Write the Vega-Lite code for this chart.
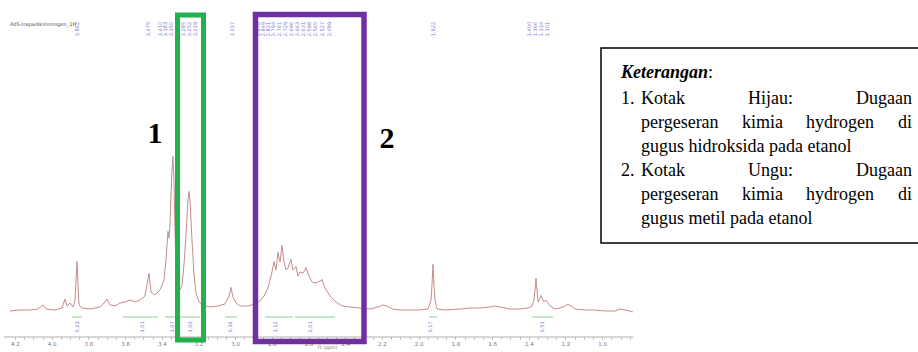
{
  "$schema": "https://vega.github.io/schema/vega-lite/v6.json",
  "width": 918,
  "height": 337,
  "autosize": "none",
  "padding": {"left": 0, "top": 0, "right": 0, "bottom": 15},
  "background": "white",
  "config": {"view": {"stroke": null}},
  "datasets": {
    "spectrum": [
      {"ppm":4.2272,"i":-1},{"ppm":4.1728,"i":0},{"ppm":4.1183,"i":0},{"ppm":4.0747,"i":1},{"ppm":4.0474,"i":5},{"ppm":4.0311,"i":1},
      {"ppm":3.982,"i":0},{"ppm":3.9439,"i":2},{"ppm":3.9275,"i":11},{"ppm":3.9166,"i":4},{"ppm":3.9003,"i":7},{"ppm":3.8839,"i":3},
      {"ppm":3.873,"i":10},{"ppm":3.8621,"i":48},{"ppm":3.8512,"i":5},{"ppm":3.8349,"i":2},{"ppm":3.7913,"i":1},{"ppm":3.7368,"i":3},
      {"ppm":3.7095,"i":8},{"ppm":3.6986,"i":11},{"ppm":3.6823,"i":5},{"ppm":3.655,"i":4},{"ppm":3.6278,"i":7},{"ppm":3.6005,"i":8},
      {"ppm":3.5733,"i":10},{"ppm":3.546,"i":8},{"ppm":3.5188,"i":10},{"ppm":3.4916,"i":14},{"ppm":3.4698,"i":36},{"ppm":3.4589,"i":18},
      {"ppm":3.4371,"i":15},{"ppm":3.4098,"i":20},{"ppm":3.388,"i":30},{"ppm":3.3771,"i":50},{"ppm":3.3717,"i":65},{"ppm":3.3662,"i":78},
      {"ppm":3.3608,"i":72},{"ppm":3.3553,"i":85},{"ppm":3.3499,"i":115},{"ppm":3.3444,"i":140},{"ppm":3.339,"i":153},{"ppm":3.3335,"i":130},
      {"ppm":3.3281,"i":80},{"ppm":3.3226,"i":40},{"ppm":3.3117,"i":20},{"ppm":3.3008,"i":20},{"ppm":3.2899,"i":25},{"ppm":3.279,"i":45},
      {"ppm":3.2681,"i":75},{"ppm":3.2572,"i":110},{"ppm":3.2518,"i":118},{"ppm":3.2463,"i":110},{"ppm":3.2354,"i":70},{"ppm":3.2245,"i":35},
      {"ppm":3.2136,"i":17},{"ppm":3.1973,"i":8},{"ppm":3.1755,"i":5},{"ppm":3.1373,"i":3},{"ppm":3.0937,"i":4},{"ppm":3.0556,"i":6},
      {"ppm":3.0338,"i":14},{"ppm":3.0229,"i":22},{"ppm":3.012,"i":13},{"ppm":2.9956,"i":7},{"ppm":2.9738,"i":4},{"ppm":2.9302,"i":4},
      {"ppm":2.8921,"i":6},{"ppm":2.8649,"i":9},{"ppm":2.8431,"i":14},{"ppm":2.8213,"i":22},{"ppm":2.8104,"i":30},{"ppm":2.7995,"i":38},
      {"ppm":2.7886,"i":48},{"ppm":2.7777,"i":40},{"ppm":2.7668,"i":57},{"ppm":2.7559,"i":48},{"ppm":2.745,"i":64},{"ppm":2.7341,"i":48},
      {"ppm":2.7232,"i":40},{"ppm":2.7123,"i":42},{"ppm":2.7014,"i":48},{"ppm":2.6959,"i":50},{"ppm":2.685,"i":40},{"ppm":2.6687,"i":43},
      {"ppm":2.6578,"i":34},{"ppm":2.6469,"i":38},{"ppm":2.6305,"i":37},{"ppm":2.6142,"i":42},{"ppm":2.5978,"i":34},{"ppm":2.5815,"i":28},
      {"ppm":2.5597,"i":27},{"ppm":2.5379,"i":29},{"ppm":2.527,"i":30},{"ppm":2.5106,"i":22},{"ppm":2.4834,"i":14},{"ppm":2.4507,"i":8},
      {"ppm":2.418,"i":4},{"ppm":2.3744,"i":3},{"ppm":2.3199,"i":2},{"ppm":2.2654,"i":1},{"ppm":2.2218,"i":3},{"ppm":2.1946,"i":5},
      {"ppm":2.1728,"i":4},{"ppm":2.1455,"i":1},{"ppm":2.1019,"i":0},{"ppm":2.0474,"i":0},{"ppm":1.9929,"i":0},{"ppm":1.9493,"i":1},
      {"ppm":1.933,"i":10},{"ppm":1.9275,"i":25},{"ppm":1.9221,"i":45},{"ppm":1.9166,"i":25},{"ppm":1.9112,"i":10},{"ppm":1.9003,"i":1},
      {"ppm":1.8567,"i":0},{"ppm":1.7749,"i":1},{"ppm":1.7204,"i":2},{"ppm":1.6659,"i":2},{"ppm":1.6114,"i":3},{"ppm":1.5842,"i":4},
      {"ppm":1.5569,"i":3},{"ppm":1.5025,"i":1},{"ppm":1.448,"i":1},{"ppm":1.4044,"i":2},{"ppm":1.3826,"i":4},{"ppm":1.3717,"i":10},
      {"ppm":1.3662,"i":20},{"ppm":1.3608,"i":31},{"ppm":1.3553,"i":20},{"ppm":1.3499,"i":8},{"ppm":1.339,"i":12},{"ppm":1.3335,"i":14},
      {"ppm":1.3281,"i":12},{"ppm":1.3172,"i":8},{"ppm":1.3063,"i":10},{"ppm":1.2954,"i":7},{"ppm":1.2845,"i":4},{"ppm":1.2572,"i":1},
      {"ppm":1.23,"i":2},{"ppm":1.2027,"i":4},{"ppm":1.1864,"i":6},{"ppm":1.17,"i":4},{"ppm":1.1482,"i":1},{"ppm":1.0937,"i":0},
      {"ppm":1.0392,"i":0},{"ppm":0.9847,"i":-1},{"ppm":0.9302,"i":-1},{"ppm":0.903,"i":1},{"ppm":0.8757,"i":0},{"ppm":0.8485,"i":-1},
      {"ppm":0.8322,"i":-2}
    ],
    "peaks": [
      {"ppm":3.339,"i":153},{"ppm":3.2518,"i":118},{"ppm":3.3662,"i":78},{"ppm":3.8621,"i":48},{"ppm":3.4698,"i":36},{"ppm":3.0229,"i":22},
      {"ppm":2.7886,"i":48},{"ppm":2.7668,"i":57},{"ppm":2.745,"i":64},{"ppm":2.6959,"i":50},{"ppm":2.6687,"i":43},{"ppm":2.6142,"i":42},
      {"ppm":2.527,"i":30},{"ppm":1.9221,"i":45},{"ppm":1.3608,"i":31},{"ppm":1.3335,"i":14}
    ],
    "integrals": [
      {"ppm":3.8894,"ppm2":3.8349,"i":-7},
      {"ppm":3.6114,"ppm2":3.4207,"i":-7},
      {"ppm":3.3826,"ppm2":3.1918,"i":-7},
      {"ppm":3.0556,"ppm2":2.9902,"i":-7},
      {"ppm":2.8376,"ppm2":2.685,"i":-7},
      {"ppm":2.6741,"ppm2":2.4561,"i":-7},
      {"ppm":1.9439,"ppm2":1.9003,"i":-7},
      {"ppm":1.3826,"ppm2":1.2681,"i":-7}
    ],
    "intlabels": [
      {"ppm":3.8621,"i":-17,"t":"0.23"},{"ppm":3.5079,"i":-17,"t":"1.01"},{"ppm":3.3444,"i":-17,"t":"1.07"},
      {"ppm":3.2463,"i":-17,"t":"1.00"},{"ppm":3.0283,"i":-17,"t":"0.36"},{"ppm":2.7831,"i":-17,"t":"1.12"},
      {"ppm":2.5924,"i":-17,"t":"2.01"},{"ppm":1.9384,"i":-17,"t":"0.17"},{"ppm":1.3281,"i":-17,"t":"0.51"}
    ],
    "peaklabels": [
      {"ppm":3.862,"i":281,"t":"3.862"},{"ppm":3.4752,"i":281,"t":"3.475"},{"ppm":3.4098,"i":281,"t":"3.410"},
      {"ppm":3.3826,"i":281,"t":"3.383"},{"ppm":3.3499,"i":281,"t":"3.350"},{"ppm":3.2845,"i":281,"t":"3.285"},
      {"ppm":3.2518,"i":281,"t":"3.252"},{"ppm":3.2191,"i":281,"t":"3.219"},{"ppm":3.0174,"i":281,"t":"3.017"},
      {"ppm":2.8757,"i":281,"t":"2.876"},{"ppm":2.8485,"i":281,"t":"2.849"},{"ppm":2.8213,"i":281,"t":"2.821"},
      {"ppm":2.794,"i":281,"t":"2.794"},{"ppm":2.7613,"i":281,"t":"2.761"},{"ppm":2.7286,"i":281,"t":"2.729"},
      {"ppm":2.6959,"i":281,"t":"2.696"},{"ppm":2.6632,"i":281,"t":"2.663"},{"ppm":2.6305,"i":281,"t":"2.631"},
      {"ppm":2.5978,"i":281,"t":"2.598"},{"ppm":2.5651,"i":281,"t":"2.565"},{"ppm":2.527,"i":281,"t":"2.527"},
      {"ppm":2.4888,"i":281,"t":"2.489"},{"ppm":1.9221,"i":281,"t":"1.922"},{"ppm":1.4,"i":281,"t":"1.400"},
      {"ppm":1.3662,"i":281,"t":"1.366"},{"ppm":1.3335,"i":281,"t":"1.334"},{"ppm":1.3008,"i":281,"t":"1.301"}
    ],
    "legendLeft": [
      {"ppm":0.8975,"i":211,"t":"1."},{"ppm":0.7886,"i":211,"t":"Kotak"},{"ppm":0.2054,"i":211,"t":"Hijau:"},
      {"ppm":0.7886,"i":187,"t":"pergeseran"},{"ppm":0.2381,"i":187,"t":"kimia"},{"ppm":-0.1106,"i":187,"t":"hydrogen"},
      {"ppm":0.7886,"i":163,"t":"gugus hidroksida pada etanol"},
      {"ppm":0.8975,"i":139,"t":"2."},{"ppm":0.7886,"i":139,"t":"Kotak"},{"ppm":0.2054,"i":139,"t":"Ungu:"},
      {"ppm":0.7886,"i":115,"t":"pergeseran"},{"ppm":0.2381,"i":115,"t":"kimia"},{"ppm":-0.1106,"i":115,"t":"hydrogen"},
      {"ppm":0.7886,"i":91,"t":"gugus metil pada etanol"}
    ],
    "legendRight": [
      {"ppm":-0.6883,"i":211,"t":"Dugaan"},{"ppm":-0.6883,"i":187,"t":"di"},
      {"ppm":-0.6883,"i":139,"t":"Dugaan"},{"ppm":-0.6883,"i":115,"t":"di"}
    ]
  },
  "encoding": {
    "x": {
      "field": "ppm", "type": "quantitative",
      "scale": {"domain": [4.2817, -0.721], "nice": false, "zero": false},
      "axis": {
        "values": [4.2,4.15,4.1,4.05,4,3.95,3.9,3.85,3.8,3.75,3.7,3.65,3.6,3.55,3.5,3.45,3.4,3.35,3.3,3.25,3.2,3.15,3.1,3.05,3,2.95,2.9,2.85,2.8,2.75,2.7,2.65,2.6,2.55,2.5,2.45,2.4,2.35,2.3,2.25,2.2,2.15,2.1,2.05,2,1.95,1.9,1.85,1.8,1.75,1.7,1.65,1.6,1.55,1.5,1.45,1.4,1.35,1.3,1.25,1.2,1.15,1.1,1.05,1,0.95,0.9,0.85],
        "labelExpr": "abs(datum.value*5 - round(datum.value*5)) < 0.001 ? format(datum.value, '.1f') : ''",
        "domain": false, "grid": false,
        "tickSize": 2, "tickColor": "#999999", "tickWidth": 0.8,
        "labelFontSize": 5.5, "labelColor": "#777777", "labelFont": "DejaVu Sans", "labelPadding": 2,
        "labelFlush": false, "labelOverlap": false,
        "title": "f1 (ppm)", "titleFontSize": 4.5, "titleColor": "#777777", "titleFontWeight": "normal",
        "titleFont": "DejaVu Sans", "titleX": 327, "titleY": 10, "titleAlign": "center", "titleBaseline": "middle"
      }
    },
    "y": {
      "field": "i", "type": "quantitative",
      "scale": {"domain": [-27, 310], "nice": false, "zero": false},
      "axis": null
    }
  },
  "layer": [
    {
      "data": {"values": [{"ppm": 4.26, "ppm2": 0.83, "i": -27}]},
      "mark": {"type": "rule", "color": "#999999", "strokeWidth": 0.8},
      "encoding": {"x2": {"field": "ppm2"}}
    },
    {
      "data": {"name": "spectrum"},
      "mark": {"type": "line", "color": "#c68c8c", "strokeWidth": 1, "interpolate": "linear"},
      "encoding": {}
    },
    {
      "data": {"name": "peaks"},
      "mark": {"type": "point", "filled": true, "size": 5, "color": "#9fb0e6", "opacity": 0.8},
      "encoding": {}
    },
    {
      "data": {"name": "integrals"},
      "mark": {"type": "rule", "color": "#8fd18f", "strokeWidth": 1},
      "encoding": {"x2": {"field": "ppm2"}}
    },
    {
      "data": {"name": "intlabels"},
      "mark": {"type": "text", "angle": 270, "fontSize": 5, "color": "#6f6fd0", "font": "DejaVu Sans", "align": "center", "baseline": "middle"},
      "encoding": {"text": {"field": "t"}}
    },
    {
      "data": {"name": "peaklabels"},
      "mark": {"type": "text", "angle": 270, "fontSize": 5, "color": "#7a7ad2", "font": "DejaVu Sans", "align": "center", "baseline": "middle"},
      "encoding": {"text": {"field": "t"}}
    },
    {
      "data": {"values": [{"ppm": 4.2272, "i": 286, "t": "AdS-trapadiksnonogen_1H"}]},
      "mark": {"type": "text", "fontSize": 5, "color": "#555555", "font": "DejaVu Sans", "align": "left", "baseline": "middle"},
      "encoding": {"text": {"field": "t"}}
    },
    {
      "data": {"values": [{"ppm": 3.3144, "ppm2": 3.1728, "i": 295, "i2": -30}]},
      "mark": {"type": "rect", "fillOpacity": 0, "stroke": "#22b14c", "strokeWidth": 5},
      "encoding": {"x2": {"field": "ppm2"}, "y2": {"field": "i2"}}
    },
    {
      "data": {"values": [{"ppm": 2.8894, "ppm2": 2.2981, "i": 295.5, "i2": -31.5}]},
      "mark": {"type": "rect", "fillOpacity": 0, "stroke": "#7030a0", "strokeWidth": 5.5},
      "encoding": {"x2": {"field": "ppm2"}, "y2": {"field": "i2"}}
    },
    {
      "data": {"values": [{"ppm": 3.4371, "i": 176, "t": "1"}, {"ppm": 2.1728, "i": 171, "t": "2"}]},
      "mark": {"type": "text", "fontSize": 30, "fontWeight": "bold", "font": "Liberation Serif", "color": "#000000", "align": "center", "baseline": "middle"},
      "encoding": {"text": {"field": "t"}}
    },
    {
      "data": {"values": [{"ppm": 1.0065, "ppm2": -0.8, "i": 262, "i2": 67}]},
      "mark": {"type": "rect", "fill": "white", "stroke": "#000000", "strokeWidth": 1.5, "clip": true},
      "encoding": {"x2": {"field": "ppm2"}, "y2": {"field": "i2"}}
    },
    {
      "data": {"values": [{"ppm": 0.8975, "i": 237, "t": "Keterangan"}]},
      "mark": {"type": "text", "fontSize": 18, "fontWeight": "bold", "fontStyle": "italic", "font": "Liberation Serif", "color": "#000000", "align": "left", "baseline": "middle"},
      "encoding": {"text": {"field": "t"}}
    },
    {
      "data": {"values": [{"ppm": 0.4234, "i": 237, "t": ":"}]},
      "mark": {"type": "text", "fontSize": 18, "font": "Liberation Serif", "color": "#000000", "align": "left", "baseline": "middle"},
      "encoding": {"text": {"field": "t"}}
    },
    {
      "data": {"name": "legendLeft"},
      "mark": {"type": "text", "fontSize": 18, "font": "Liberation Serif", "color": "#000000", "align": "left", "baseline": "middle"},
      "encoding": {"text": {"field": "t"}}
    },
    {
      "data": {"name": "legendRight"},
      "mark": {"type": "text", "fontSize": 18, "font": "Liberation Serif", "color": "#000000", "align": "right", "baseline": "middle"},
      "encoding": {"text": {"field": "t"}}
    }
  ]
}
